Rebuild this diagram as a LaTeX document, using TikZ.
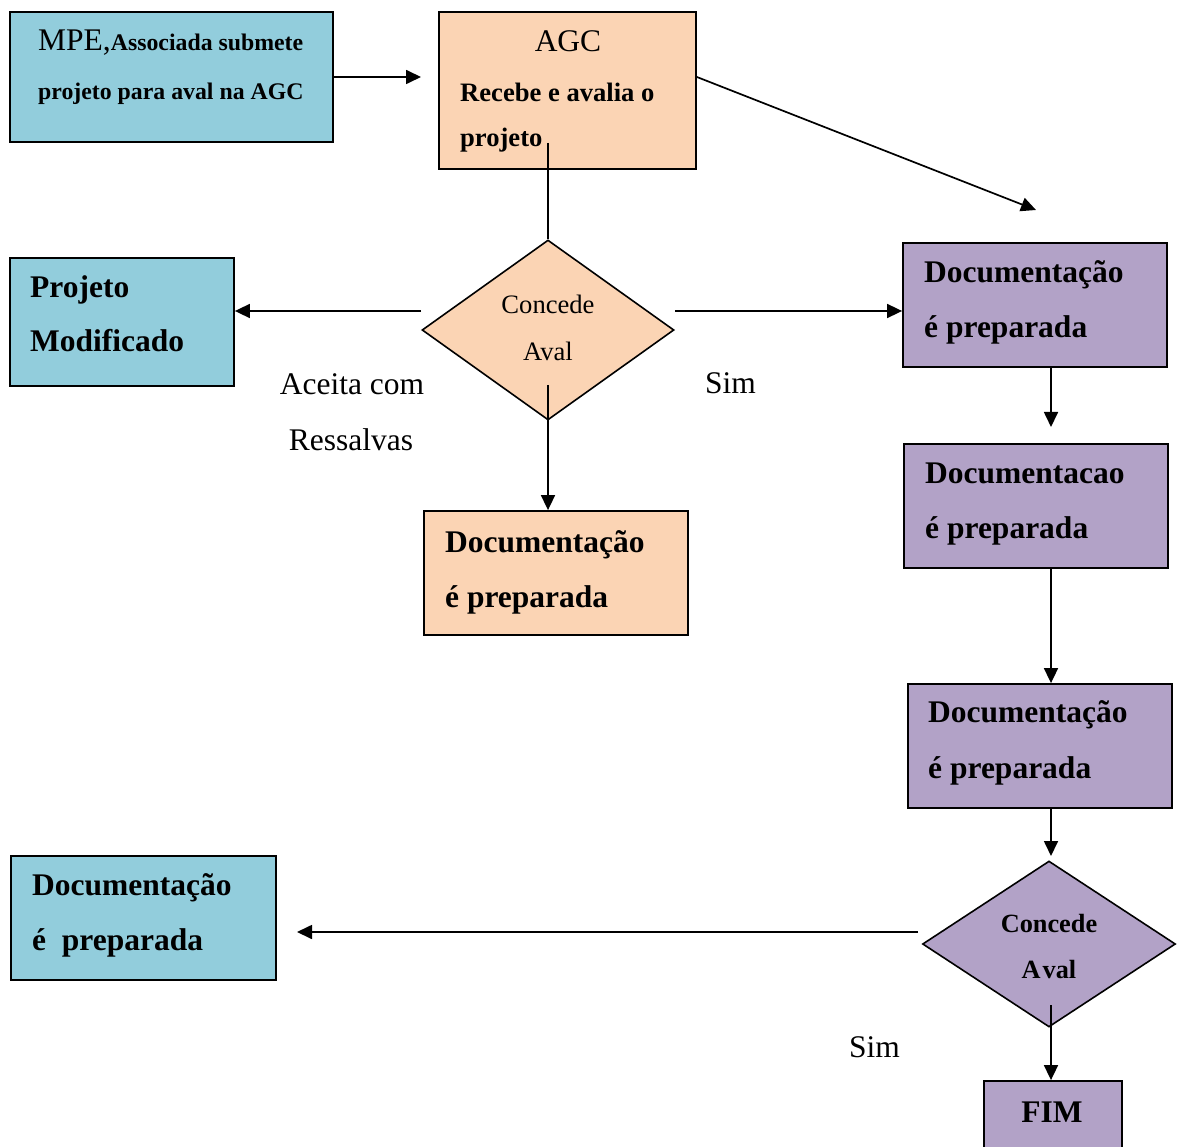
\documentclass[tikz,border=0pt]{standalone}
\usepackage{fontspec}
\setmainfont{Liberation Serif}
\usetikzlibrary{shapes.geometric,arrows.meta}

\definecolor{boxblue}{HTML}{92CDDC}
\definecolor{boxpeach}{HTML}{FBD4B4}
\definecolor{boxpurple}{HTML}{B2A2C7}

% font sizes used in the chart
\newcommand\fbig{\fontsize{31.5}{38}\selectfont}
\newcommand\fbigb{\fontsize{31.5}{38}\bfseries\selectfont}
\newcommand\fmid{\fontsize{26.6}{32}\selectfont}
\newcommand\fmidb{\fontsize{26.3}{32}\bfseries\selectfont}
\newcommand\fsmallb{\fontsize{23.8}{28}\bfseries\selectfont}

\tikzset{
  box/.style={draw=black, line width=1.8pt, rectangle, inner sep=0pt},
  dec/.style={draw=black, line width=1.6pt, diamond, inner sep=0pt},
  txt/.style={anchor=base west, inner sep=0pt},
  ctxt/.style={anchor=base, inner sep=0pt},
  conn/.style={line width=1.7pt},
  flow/.style={conn, -{Triangle[length=15pt,width=14pt]}},
}

\begin{document}
\begin{tikzpicture}[x=1pt,y=-1pt]
  \fill[white] (0,0) rectangle (1178,1147);
  \useasboundingbox (0,0) rectangle (1178,1147);
  \clip (0,0) rectangle (1178,1147);

  % boxes
  \node[box, fill=boxblue,   minimum width=323, minimum height=130] (mpe)  at (171.5,77) {};
  \node[box, fill=boxpeach,  minimum width=257, minimum height=157] (agc)  at (567.5,90.5) {};
  \node[box, fill=boxblue,   minimum width=224, minimum height=128] (proj) at (122,322) {};
  \node[box, fill=boxpurple, minimum width=264, minimum height=124] (doc1) at (1035,305) {};
  \node[box, fill=boxpeach,  minimum width=264, minimum height=124] (docC) at (556,573) {};
  \node[box, fill=boxpurple, minimum width=264, minimum height=124] (doc2) at (1036,506) {};
  \node[box, fill=boxpurple, minimum width=264, minimum height=124] (doc3) at (1040,746) {};
  \node[box, fill=boxblue,   minimum width=265, minimum height=124] (docL) at (143.5,918) {};
  \node[box, fill=boxpurple, minimum width=138, minimum height=84]  (fim)  at (1053,1123) {};

  % decisions
  \node[dec, fill=boxpeach,  minimum width=252, minimum height=180] (d1) at (548,330) {};
  \node[dec, fill=boxpurple, minimum width=253, minimum height=166] (d2) at (1049,944) {};

  % texts inside the boxes
  \node[txt] (tmpe1) at (38,51) {\fbig MPE,\fsmallb Associada submete};
  \node[txt] (tmpe2) at (38,100) {\fsmallb projeto para aval na AGC};
  \node[ctxt] (tagc1) at (568,52) {\fbig AGC};
  \node[txt] (tagc2) at (460,102) {\fmid\bfseries Recebe e avalia o};
  \node[txt] (tagc3) at (460,147) {\fmid\bfseries projeto};
  \node[txt] (tproj1) at (30,298) {\fbigb Projeto};
  \node[txt] (tproj2) at (30,352) {\fbigb Modificado};
  \node[txt] (tdoc1a) at (924,283) {\fbigb Documentação};
  \node[txt] (tdoc1b) at (924,338) {\fbigb é preparada};
  \node[txt] (tdocCa) at (445,552) {\fbigb Documentação};
  \node[txt] (tdocCb) at (445,607) {\fbigb é preparada};
  \node[txt] (tdoc2a) at (925,483) {\fbigb Documentacao};
  \node[txt] (tdoc2b) at (925,538) {\fbigb é preparada};
  \node[txt] (tdoc3a) at (928,722) {\fbigb Documentação};
  \node[txt] (tdoc3b) at (928,778) {\fbigb é preparada};
  \node[txt] (tdocLa) at (32,895) {\fbigb Documentação};
  \node[txt] (tdocLb) at (32,950) {\fbigb é\ \ preparada};
  \node[ctxt] (tfim) at (1052,1122) {\fbigb FIM};
  \node[ctxt] (td1a) at (548,314) {\fmid Concede};
  \node[ctxt] (td1b) at (548,361) {\fmid Aval};
  \node[ctxt] (td2a) at (1049,932) {\fmidb Concede};
  \node[ctxt] (td2b) at (1049,978) {\fmidb A\kern2pt val};

  % branch labels
  \node[ctxt] (lac1) at (352,395) {\fbig Aceita com};
  \node[ctxt] (lac2) at (351,450) {\fbig Ressalvas};
  \node[txt] (lsim1) at (705,394) {\fbig Sim};
  \node[txt] (lsim2) at (849,1057) {\fbig Sim};

  % connector end points
  \coordinate (agcW) at (421,77);
  \coordinate (agcOut) at (1036,210);
  \coordinate (agcIn) at (548,143);
  \coordinate (d1l) at (421,311);
  \coordinate (d1r) at (675,311);
  \coordinate (d1in) at (548,385);
  \coordinate (col) at (1051,427);
  \coordinate (d2top) at (1051,856);
  \coordinate (d2l) at (918,932);
  \coordinate (docLend) at (297,932);
  \coordinate (d2in) at (1051,1005);

  % connectors
  \draw[flow] (mpe.east) -- (agcW);
  \draw[flow] ([yshift=13.5pt]agc.east) -- (agcOut);
  \draw[conn] (agcIn) -- (d1.north);
  \draw[flow] (d1l) -- (d1l -| proj.east);
  \draw[flow] (d1r) -- (d1r -| doc1.west);
  \draw[flow] (d1in) -- (d1in |- docC.north);
  \draw[flow] (col |- doc1.south) -- (col);
  \draw[flow] (col |- doc2.south) -- (col |- doc3.north);
  \draw[flow] (col |- doc3.south) -- (d2top);
  \draw[flow] (d2l) -- (docLend);
  \draw[flow] (d2in) -- (d2in |- fim.north);
\end{tikzpicture}
\end{document}
